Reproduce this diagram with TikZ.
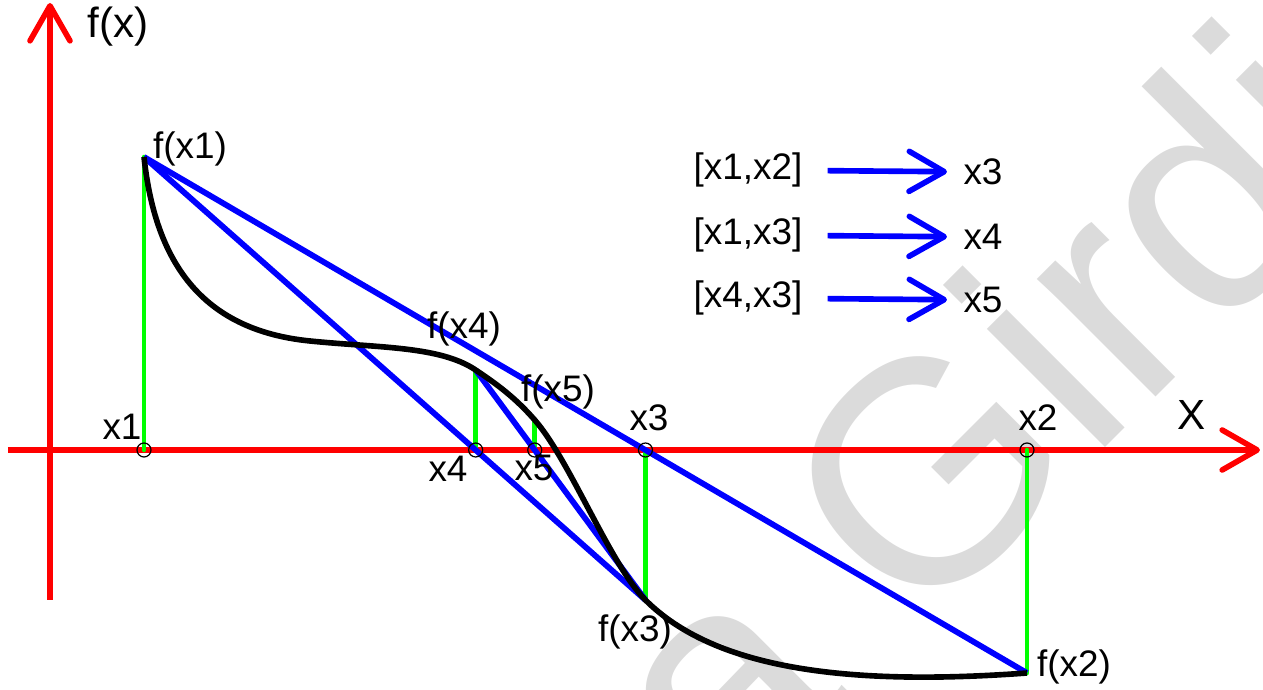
\documentclass[tikz,border=0pt]{standalone}
\usepackage{fontspec}
\setmainfont{Liberation Sans}
\usepackage{tikz}
\usepackage{xcolor}
\usetikzlibrary{arrows.meta}

\begin{document}
\begin{tikzpicture}[x=1cm,y=1cm,>={Straight Barb[length=3.5mm,width=4mm,round]},
 ax/.style={->,red,line width=1.6pt},
 sc/.style={blue,line width=1.65pt},
 gl/.style={green,line width=1.3pt,line cap=round},
 cv/.style={black,line width=1.6pt},
 mk/.style={draw=black,line width=0.35pt},
 ar/.style={->,blue,line width=1.6pt,shorten <=6pt,shorten >=3.5pt},
 lb/.style={font=\fontsize{10.5}{12}\selectfont,inner sep=1pt},
 wm/.style={font=\fontsize{90}{95}\selectfont,text=black!14,inner sep=0pt}]
 \useasboundingbox (-0.5,-2.4) rectangle (12.13,4.5);
 % watermark
 \begin{scope}
  \clip (-0.5,-2.4) rectangle (12.13,4.5);
  \node[wm,anchor=base west,rotate=45] (wmark) at (6.80,-3.73) {a Girdi};
 \end{scope}
 % axes
 \coordinate (O) at (0,0);
 \coordinate (yb) at (0,-1.5); \coordinate (ye) at (0,4.47);
 \coordinate (xb) at (-0.42,0); \coordinate (xe) at (12.1,0);
 \draw[ax] (yb)--(ye);
 \draw[ax] (xb)--(xe);
 % points
 \coordinate (fx1) at (0.94,2.93);
 \coordinate (fx2) at (9.77,-2.23);
 \coordinate (x1) at (fx1 |- O);
 \coordinate (x2) at (fx2 |- O);
 \coordinate (x3) at (intersection of fx1--fx2 and xb--xe);
 \path (x3) ++(0,-1.50) coordinate (fx3);
 \coordinate (x4) at (intersection of fx1--fx3 and xb--xe);
 \path (x4) ++(0,0.80) coordinate (fx4);
 \coordinate (x5) at (intersection of fx4--fx3 and xb--xe);
 \path (x5) ++(0,0.30) coordinate (fx5);
 \draw[gl] (x1)--(fx1); \draw[gl] (x2)--(fx2); \draw[gl] (x3)--(fx3);
 \draw[gl] (x4)--(fx4); \draw[gl] (x5)--(fx5);
 \draw[sc] (fx1)--(fx2); \draw[sc] (fx1)--(fx3); \draw[sc] (fx4)--(fx3);
 \draw[cv] (fx1) .. controls (1.05,1.9) and (1.5,1.2) .. (2.6,1.09)
  .. controls (3.3,1.02) and (3.9,1.04) .. (fx4)
  .. controls ([shift={(0.2,-0.134)}]fx4) and ([shift={(-0.2,0.23)}]fx5) .. (fx5)
  .. controls ([shift={(0.35,-0.40)}]fx5) and ([shift={(-0.35,0.35)}]fx3) .. (fx3)
  .. controls ([shift={(0.7,-0.7)}]fx3) and (8.0,-2.36) .. (fx2);
 \draw[mk] (x1) circle (0.07); \draw[mk] (x2) circle (0.07); \draw[mk] (x3) circle (0.07);
 \draw[mk] (x4) circle (0.07); \draw[mk] (x5) circle (0.07);
 % labels
 \node[lb,font=\fontsize{12}{14}\selectfont] (lfx) at (0.68,4.23) {f(x)};
 \node[lb,font=\fontsize{12}{14}\selectfont] (lX) at (11.42,0.35) {X};
 \node[lb] (lfx1) at (1.40,3.01) {f(x1)};
 \node[lb] (lx1) at (0.72,0.23) {x1};
 \node[lb] (lfx4) at (4.14,1.21) {f(x4)};
 \node[lb] (lfx5) at (5.08,0.58) {f(x5)};
 \node[lb] (lx3) at (5.99,0.32) {x3};
 \node[lb] (lx4) at (3.98,-0.19) {x4};
 \node[lb] (lx5) at (4.84,-0.18) {x5};
 \node[lb] (lx2) at (9.88,0.32) {x2};
 \node[lb] (lfx3) at (5.85,-1.82) {f(x3)};
 \node[lb] (lfx2) at (10.24,-2.17) {f(x2)};
 % legend
 \node[lb] (g1) at (6.98,2.80) {[x1,x2]};
 \node[lb] (r1) at (9.33,2.78) {x3};
 \node[lb] (g2) at (6.98,2.15) {[x1,x3]};
 \node[lb] (r2) at (9.33,2.13) {x4};
 \node[lb] (g3) at (6.98,1.52) {[x4,x3]};
 \node[lb] (r3) at (9.33,1.50) {x5};
 \draw[ar] (g1)--(r1); \draw[ar] (g2)--(r2); \draw[ar] (g3)--(r3);
\end{tikzpicture}
\end{document}
